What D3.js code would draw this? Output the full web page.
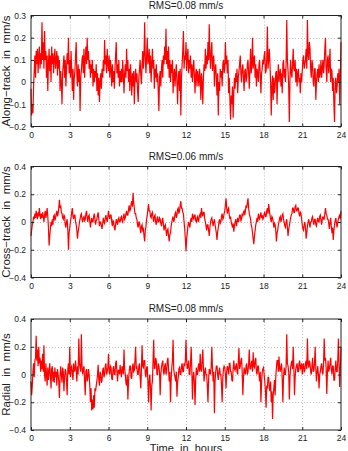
<!DOCTYPE html>
<html><head><meta charset="utf-8">
<script src="https://cdn.jsdelivr.net/npm/d3@7"></script>
<style>body{margin:0;background:#fff}svg{display:block}</style>
</head><body>
<svg id="c" width="348" height="451"></svg>
<script>
// values below are read every 0.05 h, from 0 h to 24 h
const sampleStepHours = 0.05;
const xTicks = [0,3,6,9,12,15,18,21,24];

const titles = ["RMS=0.08 mm/s", "RMS=0.06 mm/s", "RMS=0.08 mm/s"];
const yLabels = ["Along\u2212track  in  mm/s", "Cross\u2212track  in  mm/s", "Radial  in  mm/s"];
const xLabel = "Time  in  hours";
const yDomains = [[-0.2, 0.3], [-0.4, 0.4], [-0.4, 0.4]];
const yTicks = [[-0.2,-0.1,0,0.1,0.2,0.3], [-0.4,-0.2,0,0.2,0.4], [-0.4,-0.2,0,0.2,0.4]];

const alongTrack = [
 -0.03,-0.15,-0.1,-0.14,-0.02,0.05,0.12,0.02,0.14,0.08,0.15,0.04,0.12,0.16,0.06,0.13,0.08,0.27,0.1,0.18,
 0.06,0.23,0.1,0.14,0.02,0.12,-0.04,0.08,0.15,0.05,0.12,0.0,0.16,0.08,0.13,0.04,0.11,0.15,0.06,0.1,
 0.14,0.03,0.12,0.06,0.1,-0.04,0.05,0.0,-0.1,0.04,0.08,0.12,0.02,0.1,-0.02,0.06,0.13,0.08,0.2,0.04,
 0.1,0.02,0.14,0.05,-0.04,0.06,-0.08,0.02,0.05,0.12,0.18,0.03,-0.02,0.08,0.0,0.06,-0.13,0.02,0.05,0.1,
 0.12,0.04,0.15,0.02,0.1,0.16,0.08,0.2,0.1,0.14,0.06,0.1,0.02,0.08,0.04,0.1,-0.02,0.06,0.0,0.05,
 0.02,0.08,-0.04,0.04,-0.06,0.02,-0.09,0.0,0.04,-0.03,0.06,0.02,0.1,0.05,0.19,0.08,0.12,0.04,0.15,0.08,
 0.05,0.12,0.02,0.1,0.06,-0.02,0.08,0.0,0.05,-0.03,0.06,0.12,0.18,0.04,0.08,0.02,0.1,-0.02,0.05,0.0,
 0.06,0.0,0.1,0.03,-0.05,0.04,0.08,0.02,0.15,0.05,0.1,0.0,0.06,-0.04,0.08,0.02,-0.06,0.04,-0.02,0.05,
 -0.1,0.02,0.06,0.0,0.04,-0.04,-0.09,0.02,0.06,0.1,0.03,-0.01,0.08,0.14,0.06,0.12,0.27,0.1,0.04,0.12,
 0.2,0.08,0.1,0.15,0.04,0.12,0.0,0.08,0.15,0.06,0.1,-0.03,0.06,0.02,0.08,0.0,0.04,-0.04,-0.13,0.02,
 0.05,-0.02,0.06,0.1,0.02,0.12,0.08,0.16,0.1,0.24,0.08,0.14,0.06,0.16,0.02,0.1,0.0,0.08,0.04,0.1,
 -0.05,0.03,0.06,-0.02,0.04,0.08,0.0,-0.1,0.02,0.05,-0.04,0.06,-0.15,0.02,0.08,0.14,0.23,0.06,0.12,0.1,
 0.18,0.05,0.12,0.15,0.04,0.1,0.06,0.12,0.02,0.08,0.0,0.06,0.1,0.03,-0.05,0.04,0.06,-0.02,0.05,0.02,
 -0.02,0.06,0.02,-0.08,0.04,0.0,-0.1,0.02,0.08,0.05,0.15,0.06,0.12,0.08,0.18,0.1,0.26,0.12,0.06,0.14,
 0.18,0.05,0.1,0.12,-0.02,0.06,0.08,0.02,-0.06,0.04,-0.15,0.0,-0.04,0.06,0.02,0.05,-0.02,0.08,0.1,0.04,
 0.06,0.18,0.08,0.12,0.04,0.1,-0.05,0.02,-0.08,-0.17,-0.06,-0.1,-0.02,-0.16,-0.05,0.02,-0.03,0.04,0.0,0.06,
 -0.05,0.02,0.05,0.08,0.12,0.04,0.0,0.06,0.08,0.02,-0.04,0.05,0.06,0.0,0.02,0.08,0.1,0.04,-0.03,0.06,
 0.15,0.04,0.08,0.2,0.06,0.1,0.12,0.02,0.08,-0.02,0.06,0.04,0.0,0.08,0.1,0.03,-0.05,0.04,0.06,0.1,
 0.08,0.12,0.14,0.04,0.05,0.1,0.25,0.06,0.1,0.15,0.08,0.0,-0.15,-0.02,0.03,-0.08,0.02,-0.05,-0.02,0.04,
 0.05,-0.1,0.02,0.08,0.0,0.04,0.06,-0.02,0.04,-0.05,0.08,0.1,0.02,0.06,0.0,0.08,0.28,0.1,0.05,-0.02,
 -0.18,0.02,0.1,0.04,0.02,0.08,0.15,0.06,0.05,0.1,0.0,0.06,-0.02,0.04,0.06,0.0,0.02,-0.05,0.04,0.0,
 0.05,0.1,0.12,0.06,0.08,0.1,0.15,0.06,0.28,0.12,0.1,0.18,0.15,0.06,0.02,0.1,0.08,0.0,-0.02,0.06,
 0.06,-0.08,0.0,0.04,0.06,0.0,0.08,0.02,0.04,0.1,0.02,0.06,0.1,0.04,0.08,0.15,0.2,0.06,0.0,0.1,
 0.12,0.04,0.08,0.15,0.0,0.06,0.05,-0.04,0.02,-0.1,-0.18,0.0,0.02,-0.05,-0.02,0.04,0.0,0.06,-0.1,0.02,
 0.18
];

const crossTrack = [
 -0.1,-0.06,-0.02,0.0,0.04,0.02,0.06,0.03,0.08,0.05,0.02,0.07,0.04,0.1,0.05,0.02,0.06,0.03,0.07,0.04,
 0.0,0.05,0.08,0.03,0.06,0.1,0.04,-0.04,-0.17,-0.1,-0.05,0.0,-0.03,0.02,-0.02,0.04,0.05,0.01,0.03,0.06,
 0.08,0.04,0.06,0.1,0.16,0.1,0.12,0.07,0.06,0.03,0.02,0.05,0.04,-0.02,-0.04,0.0,0.02,-0.06,-0.2,-0.08,
 -0.04,0.0,0.03,0.07,0.1,0.04,0.02,0.05,0.05,0.0,-0.02,-0.06,-0.12,-0.07,-0.04,0.0,0.02,0.05,0.06,0.02,
 0.0,0.03,0.04,0.01,0.02,0.06,0.08,0.03,0.0,0.04,0.05,0.01,-0.04,0.0,0.03,0.0,0.0,0.04,0.06,0.02,
 -0.02,0.01,0.02,0.05,0.07,0.02,-0.03,0.0,0.0,-0.03,-0.05,-0.01,0.03,0.0,-0.01,0.03,0.05,0.02,0.0,0.04,
 0.08,0.04,0.02,0.05,0.05,0.0,-0.03,0.01,0.0,-0.04,-0.06,-0.02,0.02,0.0,-0.02,0.02,0.03,0.0,0.0,0.03,
 0.04,0.01,0.0,0.04,0.06,0.02,0.03,0.06,0.08,0.05,0.05,0.09,0.12,0.08,0.09,0.13,0.15,0.11,0.21,0.14,
 0.1,0.06,0.06,0.03,0.02,-0.02,-0.04,0.0,0.0,-0.05,-0.08,-0.03,-0.02,-0.06,-0.05,-0.1,-0.14,-0.06,-0.03,0.02,
 0.05,0.09,0.13,0.08,0.08,0.04,0.03,0.06,0.07,0.03,0.0,0.04,0.05,0.0,-0.02,0.02,0.04,0.0,0.0,0.03,
 0.02,-0.01,-0.03,0.01,0.03,-0.02,-0.06,-0.03,-0.02,-0.06,-0.1,-0.06,-0.05,-0.1,-0.14,-0.09,-0.08,-0.03,0.0,0.02,
 0.04,0.0,0.02,0.06,0.07,0.03,0.05,0.09,0.1,0.06,0.08,0.12,0.15,0.1,0.1,0.07,0.06,0.0,-0.05,-0.12,
 -0.21,-0.12,-0.08,-0.03,0.0,-0.02,-0.04,0.01,0.03,0.0,0.06,0.03,0.02,0.05,0.05,0.01,0.0,0.03,0.04,0.0,
 0.02,0.05,0.06,0.03,0.1,0.06,0.04,0.07,0.07,0.02,0.0,-0.03,-0.06,-0.02,-0.02,-0.06,-0.1,-0.04,0.0,0.02,
 0.03,0.0,-0.03,0.0,0.02,-0.02,-0.05,-0.08,-0.13,-0.07,-0.04,0.0,0.02,-0.01,0.0,0.04,0.06,0.02,0.03,0.06,
 0.08,0.12,0.17,0.1,0.06,0.09,0.1,0.05,0.02,0.04,0.0,-0.02,-0.04,-0.01,-0.07,-0.03,0.0,0.02,-0.03,0.0,
 0.03,0.0,0.02,0.05,0.05,0.01,0.02,0.06,0.04,0.07,0.08,0.05,0.08,0.12,0.1,0.14,0.17,0.1,0.06,0.04,
 0.02,-0.02,-0.04,-0.08,-0.12,-0.16,-0.1,-0.06,-0.02,0.0,0.03,0.0,0.06,0.03,0.02,0.05,0.07,0.03,0.05,0.02,
 0.03,0.06,0.07,0.04,0.04,0.08,0.1,0.06,0.13,0.09,0.05,0.02,0.0,0.04,0.03,0.0,-0.04,-0.01,-0.02,-0.06,
 -0.14,-0.08,-0.06,-0.02,0.0,0.03,0.04,0.0,0.02,0.05,0.06,0.02,0.0,-0.03,-0.04,0.0,0.02,-0.04,-0.1,-0.05,
 -0.03,0.0,0.03,0.05,0.06,0.1,0.1,0.07,0.07,0.11,0.12,0.08,0.08,0.1,0.1,0.06,0.04,0.07,0.06,0.02,
 -0.02,-0.05,-0.06,-0.02,0.0,-0.04,-0.12,-0.08,-0.03,0.0,0.02,-0.01,-0.04,0.0,0.0,0.03,0.04,0.0,-0.02,0.02,
 0.02,-0.02,-0.03,0.01,0.03,0.0,0.0,0.04,0.05,0.01,-0.02,0.02,0.04,0.02,0.02,0.06,0.1,0.06,0.05,0.02,
 0.02,-0.01,-0.05,0.0,0.03,-0.03,-0.08,-0.04,-0.13,-0.06,-0.02,0.01,0.03,-0.01,-0.04,0.0,0.02,0.04,0.05,0.02,
 0.08
];

const radial = [
 -0.05,-0.15,-0.08,0.02,0.08,-0.02,0.1,0.12,0.28,0.1,0.18,0.06,0.2,0.08,0.12,0.02,0.1,0.04,0.15,0.02,
 0.21,0.0,-0.05,0.08,0.0,-0.08,0.05,-0.04,0.02,0.08,0.0,-0.1,0.04,0.06,-0.05,0.02,-0.06,0.05,-0.02,0.02,
 -0.08,0.04,0.0,-0.05,-0.17,-0.02,0.06,0.0,-0.06,0.05,0.02,-0.12,-0.02,0.04,0.02,-0.05,-0.15,0.04,0.08,0.0,
 0.2,-0.02,0.05,0.06,0.0,-0.04,0.08,0.02,0.04,0.1,0.03,-0.05,0.06,0.0,0.26,0.08,0.05,0.02,0.29,0.06,
 0.0,0.04,0.06,-0.05,-0.15,0.02,0.04,-0.05,-0.02,0.04,0.0,-0.08,-0.2,-0.1,-0.26,-0.18,-0.25,-0.15,-0.24,-0.1,
 -0.12,-0.08,-0.05,0.0,0.07,-0.04,-0.08,0.02,0.0,-0.06,-0.04,0.03,0.05,-0.02,0.0,0.06,0.08,0.0,0.02,0.05,
 0.15,0.02,0.0,0.06,0.05,-0.03,-0.04,0.04,0.06,0.0,0.0,0.08,0.1,0.02,-0.05,0.03,0.03,0.0,0.07,0.02,
 -0.02,0.06,0.04,0.0,0.18,0.04,0.0,-0.06,-0.08,0.0,-0.18,-0.05,0.02,0.06,0.06,-0.02,-0.03,0.05,0.08,0.02,
 0.03,0.1,0.2,0.04,0.05,0.0,0.0,0.06,0.08,-0.02,-0.1,0.04,0.21,0.06,0.05,0.1,0.1,0.0,-0.02,0.05,
 0.06,-0.05,-0.2,-0.04,0.0,-0.1,-0.26,-0.08,-0.05,0.1,0.25,0.04,0.05,0.12,0.1,0.0,0.0,0.08,0.06,0.02,
 -0.15,0.0,0.05,0.08,0.1,0.02,0.0,0.06,0.08,0.0,0.02,0.1,0.12,0.04,-0.05,0.02,-0.2,-0.04,0.05,0.1,
 0.25,0.04,0.0,-0.02,-0.05,0.02,-0.16,-0.06,-0.02,0.04,0.05,0.0,0.0,0.06,0.08,0.02,0.02,0.08,0.06,0.1,
 0.25,0.1,0.04,0.06,0.1,0.0,0.0,0.08,0.2,0.04,-0.18,-0.02,0.02,-0.06,-0.22,-0.04,0.05,0.0,0.0,0.06,
 0.08,0.02,0.15,0.04,0.02,0.1,0.18,0.04,-0.05,0.02,0.05,0.0,0.0,-0.08,-0.2,-0.04,0.04,0.02,0.0,0.06,
 0.2,0.04,-0.05,0.02,-0.28,-0.05,0.02,0.06,0.06,0.0,-0.04,0.02,0.05,0.0,0.0,-0.08,-0.2,-0.02,0.04,0.06,
 0.05,0.0,-0.1,0.02,0.06,0.04,0.0,0.08,0.08,0.02,0.02,-0.04,-0.05,0.04,0.1,0.04,0.03,0.06,0.08,0.02,
 0.0,0.1,0.19,0.04,0.06,0.1,0.12,0.02,-0.15,-0.02,0.05,0.02,0.0,0.06,0.08,0.0,0.02,0.08,0.18,0.04,
 0.04,0.08,0.1,0.02,0.16,0.06,0.05,0.1,0.12,0.02,0.0,0.06,0.06,0.0,-0.05,0.02,-0.2,-0.06,0.02,0.04,
 0.05,0.0,-0.05,-0.12,-0.24,-0.08,-0.1,-0.02,-0.02,-0.1,-0.12,-0.05,-0.2,-0.12,-0.32,-0.15,-0.1,-0.04,-0.15,-0.02,
 0.05,0.1,0.1,0.02,0.13,0.04,0.02,0.06,0.08,-0.04,-0.2,-0.02,0.05,0.0,0.0,0.06,0.29,0.08,0.06,0.02,
 -0.18,-0.02,0.05,0.08,0.1,0.04,0.2,0.06,-0.15,-0.02,0.04,0.06,0.08,0.02,0.02,0.08,0.1,0.04,0.05,0.08,
 0.0,0.06,0.08,0.02,0.03,0.08,0.1,0.04,0.26,0.08,0.05,0.1,0.08,0.02,0.0,0.06,0.12,0.02,0.03,0.08,
 0.2,0.04,-0.05,0.02,0.06,0.0,-0.1,0.0,0.02,0.06,0.08,0.02,0.0,0.08,0.26,0.1,0.12,0.04,-0.14,0.02,
 0.1,0.02,0.04,0.08,0.12,0.04,0.0,0.06,0.06,-0.04,-0.04,0.04,0.1,0.02,0.02,0.1,0.26,0.08,-0.09,0.04,
 0.2
];

const series = [alongTrack, crossTrack, radial];

const svg = d3.select("#c");
const font = "'Liberation Sans', Arial, Helvetica, sans-serif";
const left = 31, right = 341;
const panelTops = [15.5, 166.5, 319];
const panelH = 111;

const x = d3.scaleLinear().domain([0, 24]).range([left, right]);

series.forEach((vals, p) => {
  const top = panelTops[p], bottom = top + panelH;
  const y = d3.scaleLinear().domain(yDomains[p]).range([bottom, top]);
  const g = svg.append("g");

  // grid
  g.append("g").selectAll("line").data(xTicks.slice(1, -1)).join("line")
    .attr("x1", d => Math.round(x(d)) + 0.5).attr("x2", d => Math.round(x(d)) + 0.5)
    .attr("y1", top).attr("y2", bottom)
    .attr("stroke", "#b0b0b0").attr("stroke-width", 0.8).attr("stroke-dasharray", "1,2");
  g.append("g").selectAll("line").data(yTicks[p].slice(1, -1)).join("line")
    .attr("x1", left).attr("x2", right)
    .attr("y1", d => Math.round(y(d)) + 0.5).attr("y2", d => Math.round(y(d)) + 0.5)
    .attr("stroke", "#b0b0b0").attr("stroke-width", 0.8).attr("stroke-dasharray", "1,2");

  // data line
  const line = d3.line()
    .x((d, i) => x(i * sampleStepHours))
    .y(d => y(d));
  g.append("path").datum(vals)
    .attr("d", line).attr("fill", "none")
    .attr("stroke", "#ff0000").attr("stroke-width", 1.2).attr("stroke-linejoin", "miter");

  // axes with inward ticks
  const xAxis = d3.axisBottom(x).tickValues(xTicks).tickSize(-3).tickPadding(5).tickFormat(d3.format("d"));
  const yAxis = d3.axisLeft(y).tickValues(yTicks[p]).tickSize(-3).tickPadding(5)
    .tickFormat(d => d === 0 ? "0" : d3.format(".1f")(d).replace("-", "\u2212"));
  const ax = g.append("g").attr("transform", `translate(0,${bottom})`).call(xAxis);
  const ay = g.append("g").attr("transform", `translate(${left},0)`).call(yAxis);
  g.append("g").attr("transform", `translate(0,${top})`)
    .call(d3.axisTop(x).tickValues(xTicks).tickSize(-3).tickFormat(""));
  g.append("g").attr("transform", `translate(${right},0)`)
    .call(d3.axisRight(y).tickValues(yTicks[p]).tickSize(-3).tickFormat(""));
  g.selectAll(".domain").remove();
  g.selectAll(".tick line").attr("stroke", "#222");
  [ax, ay].forEach(a => a.selectAll("text").attr("font-family", font).attr("font-size", 8.5).attr("fill", "#222"));

  // box
  g.append("rect").attr("x", left).attr("y", top).attr("width", right - left).attr("height", panelH)
    .attr("fill", "none").attr("stroke", "#222").attr("stroke-width", 1);

  // title
  g.append("text").attr("x", (left + right) / 2).attr("y", top - 7)
    .attr("text-anchor", "middle").attr("font-family", font).attr("font-size", 10).attr("fill", "#222")
    .text(titles[p]);

  // y label
  g.append("text").attr("transform", `translate(9.5,${(top + bottom) / 2}) rotate(-90)`)
    .attr("text-anchor", "middle").attr("font-family", font).attr("font-size", 11.5).attr("fill", "#222")
    .style("white-space", "pre")
    .text(yLabels[p]);
});

svg.append("text").attr("x", (left + right) / 2).attr("y", 451.5)
  .attr("text-anchor", "middle").attr("font-family", font).attr("font-size", 11).attr("fill", "#222")
  .style("white-space", "pre")
  .text(xLabel);
</script>
</body></html>
